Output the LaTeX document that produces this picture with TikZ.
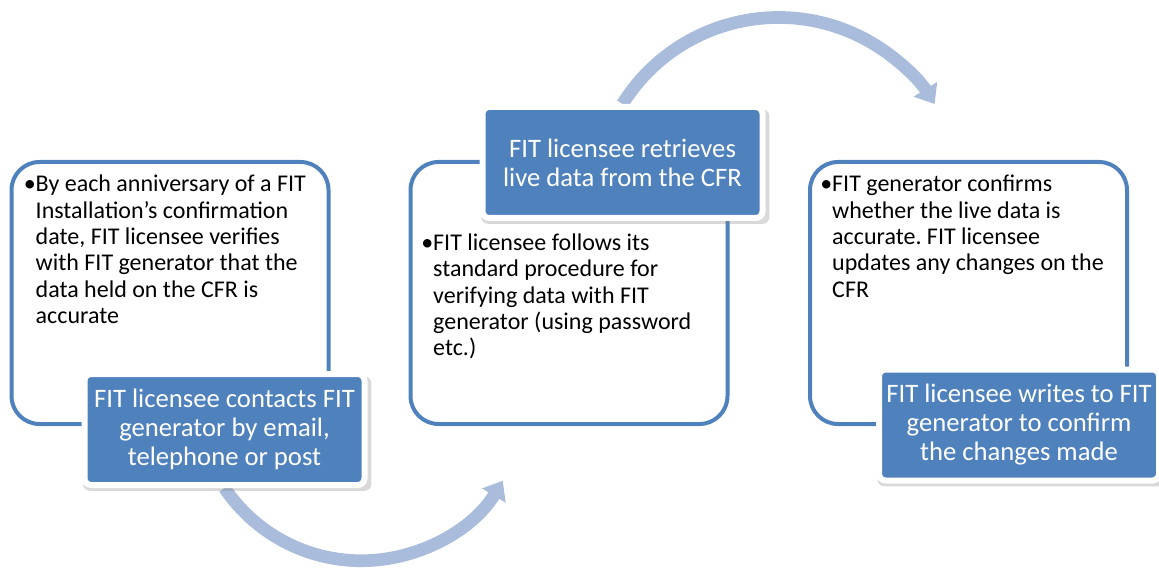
\documentclass[tikz,border=0pt]{standalone}
\usepackage{fontspec}
\setmainfont{Carlito}
\frenchspacing
\usetikzlibrary{arrows.meta,shadows,backgrounds}

\definecolor{fitblue}{HTML}{4F81BD}
\definecolor{fitarrow}{HTML}{A9BCDB}

\newcommand{\bulletlines}[1]{\begin{tabular}{@{}l@{}l@{}}\textbullet&\begin{tabular}[t]{@{}l@{}}#1\end{tabular}\end{tabular}}

\tikzset{
  bigbox/.style={draw=fitblue, line width=3pt, fill=white, rounded corners=21pt,
    minimum width=237.75pt, minimum height=196.5pt},
  bluebox/.style={draw=white, line width=4.5pt, fill=fitblue, rounded corners=5pt,
    minimum width=210pt, minimum height=83.25pt, text=white, align=center,
    font=\fontsize{20}{21.75}\selectfont,
    drop shadow={shadow xshift=2pt, shadow yshift=-3pt, shadow scale=1.03, opacity=0.3}},
  bullettext/.style={anchor=north west, inner sep=0pt, font=\fontsize{18}{19.8}\selectfont},
  cyclearrow/.style={draw=fitarrow, line width=9.5pt, -{Triangle[width=20pt,length=13pt]}}
}

\begin{document}
\begin{tikzpicture}[x=0.75pt,y=-0.75pt]
\useasboundingbox (0,0) rectangle (1159,570);

\node[bigbox] (anniv) at (170,293) {};
\node[bullettext] (annivtext) at ([shift={(14,13)}]anniv.north west)
  {\bulletlines{By each anniversary of a FIT\\Installation's confirmation\\date, FIT licensee verifies\\with FIT generator that the\\data held on the CFR is\\accurate}};
\node[bluebox] (contact) at (224.5,429.5) {FIT licensee contacts FIT\\generator by email,\\telephone or post};

\node[bigbox] (standard) at (569,293) {};
\node[bullettext] (standardtext) at ([shift={(12.5,71.5)}]standard.north west)
  {\bulletlines{FIT licensee follows its\\standard procedure for\\verifying data with FIT\\generator (using password\\etc.)}};
\node[bluebox] (retrieve) at (622.5,162.5) {FIT licensee retrieves\\live data from the CFR};

\node[bigbox] (confirm) at (968.5,293) {};
\node[bullettext] (confirmtext) at ([shift={(12,13)}]confirm.north west)
  {\bulletlines{FIT generator confirms\\whether the live data is\\accurate. FIT licensee\\updates any changes on the\\CFR}};
\node[bluebox] (writes) at (1019,425) {FIT licensee writes to FIT\\generator to confirm\\the changes made};

\begin{scope}[on background layer]
\draw[cyclearrow] (contact.south) arc[start angle=146, end angle=31, radius=165];
\draw[cyclearrow] (retrieve.north) arc[start angle=212, end angle=328, radius=184];
\end{scope}

\end{tikzpicture}
\end{document}
